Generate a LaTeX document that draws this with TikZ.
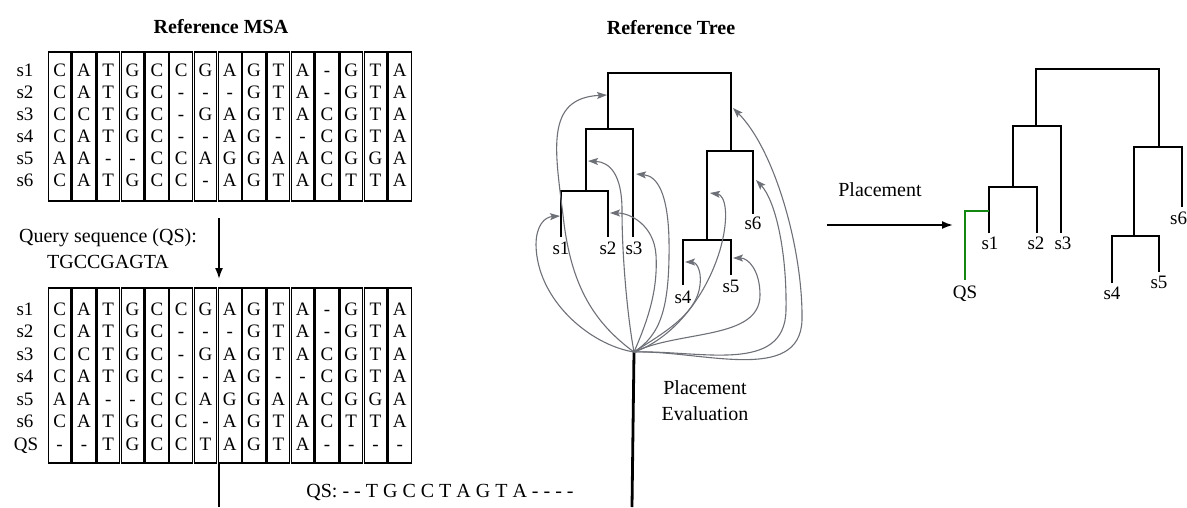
\documentclass[tikz,border=0pt]{standalone}
\usepackage{fontspec}
\setmainfont{Liberation Serif}
\usetikzlibrary{arrows.meta}
\definecolor{movegray}{RGB}{110,112,120}
\definecolor{qsgreen}{RGB}{18,135,18}
\begin{document}
\begin{tikzpicture}[x=1pt,y=-1pt,
  every node/.style={inner sep=0pt,outer sep=0pt,font=\fontsize{19}{22}\selectfont},
  ch/.style={text height=13.5pt,text depth=0pt},
  col/.style={draw=black,line width=1.2pt},
  title/.style={font=\fontsize{20}{24}\selectfont\bfseries},
  lbl/.style={font=\fontsize{20}{24}\selectfont},
  branch/.style={draw=black,line width=1.9pt},
  qsbranch/.style={draw=qsgreen,line width=2.8pt},
  stem/.style={draw=black,line width=2.8pt},
  move/.style={draw=movegray,line width=1.1pt,-{Stealth[length=10pt,width=7pt,inset=2pt]}},
  flow/.style={draw=black,line width=1.8pt,-{Latex[length=11pt,width=8pt]}}]
\useasboundingbox (0,0) rectangle (1187,507);

% ---------- titles ----------
\node[title] (msa-title) at (221,27) {Reference MSA};
\node[title] (tree-title) at (671,28) {Reference Tree};

% ---------- reference alignment ----------
\foreach \c in {0,...,14}
  \draw[col] ({47.5+24.3*\c+0.8},52) rectangle ({47.5+24.3*(\c+1)-0.8},201);
\foreach \seq [count=\r] in {{C,A,T,G,C,C,G,A,G,T,A,-,G,T,A},{C,A,T,G,C,-,-,-,G,T,A,-,G,T,A},{C,C,T,G,C,-,G,A,G,T,A,C,G,T,A},{C,A,T,G,C,-,-,A,G,-,-,C,G,T,A},{A,A,-,-,C,C,A,G,G,A,A,C,G,G,A},{C,A,T,G,C,C,-,A,G,T,A,C,T,T,A}}{
  \node[ch] (top-lab-\r) at (25,{69.5+22.1*(\r-1)}) {s\r};
  \foreach \x [count=\c] in \seq
    \node[ch] (top-\r-\c) at ({47.5+24.3*(\c-0.5)},{69.5+22.1*(\r-1)}) {\x};
}

% ---------- query sequence and alignment step ----------
\node[lbl] (qs-head) at (108,238) {Query sequence (QS):};
\node[lbl] (qs-seq) at (108,262) {TGCCGAGTA};
\coordinate (align-from) at (219,218);
\coordinate (align-to) at (219,279);
\draw[flow] (align-from) -- (align-to);

% ---------- extended alignment ----------
\foreach \c in {0,...,14}
  \draw[col] ({47.5+24.3*\c+0.8},288) rectangle ({47.5+24.3*(\c+1)-0.8},463);
\foreach \seq [count=\r] in {{C,A,T,G,C,C,G,A,G,T,A,-,G,T,A},{C,A,T,G,C,-,-,-,G,T,A,-,G,T,A},{C,C,T,G,C,-,G,A,G,T,A,C,G,T,A},{C,A,T,G,C,-,-,A,G,-,-,C,G,T,A},{A,A,-,-,C,C,A,G,G,A,A,C,G,G,A},{C,A,T,G,C,C,-,A,G,T,A,C,T,T,A},{-,-,T,G,C,C,T,A,G,T,A,-,-,-,-}}{
  \foreach \x [count=\c] in \seq
    \node[ch] (ext-\r-\c) at ({47.5+24.3*(\c-0.5)},{308.3+22.5*(\r-1)}) {\x};
}
\foreach \r in {1,...,6}
  \node[ch] (ext-lab-\r) at (25,{308.3+22.5*(\r-1)}) {s\r};
\node[ch] (ext-lab-7) at (26,443.3) {QS};

\coordinate (msa-out-top) at (219,463);
\coordinate (msa-out-bot) at (219,507);
\draw[stem] (msa-out-top) -- (msa-out-bot);
\node[lbl] (qs-aligned) at (440,492) {QS: - - T G C C T A G T A - - - -};

% ---------- reference tree ----------
\coordinate (a-root) at (669.5,73);
\coordinate (a-A) at (608,129);
\coordinate (a-B) at (731,151);
\coordinate (a-C) at (586,191);
\coordinate (a-D) at (707,240);
\coordinate (a-s1) at (561,237);
\coordinate (a-s2) at (608,237);
\coordinate (a-s3) at (633,237);
\coordinate (a-s4) at (683,285);
\coordinate (a-s5) at (731,275);
\coordinate (a-s6) at (753,214);
\draw[branch] (a-s1) |- (a-C) -| (a-s2);
\draw[branch] (a-C) |- (a-A) -| (a-s3);
\draw[branch] (a-s4) |- (a-D) -| (a-s5);
\draw[branch] (a-D) |- (a-B) -| (a-s6);
\draw[branch] (a-A) |- (a-root) -| (a-B);
\node[ch] (a-l1) at (561,248) {s1};
\node[ch] (a-l2) at (608,248) {s2};
\node[ch] (a-l3) at (634,248) {s3};
\node[ch] (a-l4) at (683,297) {s4};
\node[ch] (a-l5) at (731,286) {s5};
\node[ch] (a-l6) at (753,223) {s6};

% candidate insertion points, tried from the query end
\coordinate (ev) at (634,352);
\coordinate (ev-bot) at (632,507);
\draw[stem] (ev) -- (ev-bot);
\coordinate (t1) at (607,95);
\coordinate (t2) at (560,216);
\coordinate (t3) at (610,213);
\coordinate (t4) at (588,161);
\coordinate (t5) at (636,174);
\coordinate (t6) at (710,193);
\coordinate (t7) at (685,262);
\coordinate (t8) at (733,258);
\coordinate (t9) at (756,180);
\coordinate (t10) at (733,108);
\draw[move] (ev) .. controls (590,320) and (570,280) .. (563,215) .. controls (555,150) and (545,98) .. (t1);
\draw[move] (ev) .. controls (590,345) and (537,300) .. (536,245) .. controls (536,225) and (545,217) .. (t2);
\draw[move] (ev) .. controls (648,320) and (658,290) .. (656,255) .. controls (654,225) and (630,213) .. (t3);
\draw[move] (ev) .. controls (628,320) and (622,260) .. (622,210) .. controls (622,175) and (610,162) .. (t4);
\draw[move] (ev) .. controls (660,335) and (670,310) .. (669,240) .. controls (668,195) and (658,176) .. (t5);
\draw[move] (ev) .. controls (670,340) and (705,300) .. (720,250) .. controls (730,215) and (725,195) .. (t6);
\draw[move] (ev) .. controls (660,335) and (697,315) .. (700,285) .. controls (702,268) and (695,262) .. (t7);
\draw[move] (ev) .. controls (680,330) and (760,340) .. (760,295) .. controls (760,270) and (748,258) .. (t8);
\draw[move] (ev) .. controls (700,350) and (785,375) .. (786,310) .. controls (787,250) and (775,200) .. (t9);
\draw[move] (ev) .. controls (700,350) and (800,385) .. (802,320) .. controls (803,250) and (775,150) .. (t10);
\node[lbl] (eval-1) at (705,388) {Placement};
\node[lbl] (eval-2) at (705,414) {Evaluation};

% ---------- placement step ----------
\coordinate (place-from) at (827,225);
\coordinate (place-to) at (953,225);
\draw[flow] (place-from) -- (place-to);
\node[lbl] (place-lbl) at (880,190) {Placement};

% ---------- tree with the query placed ----------
\coordinate (b-root) at (1097.5,69);
\coordinate (b-A) at (1036,126);
\coordinate (b-B) at (1159,147);
\coordinate (b-C) at (1013,187);
\coordinate (b-D) at (1134,236);
\coordinate (b-s1) at (989,233);
\coordinate (b-s2) at (1037,233);
\coordinate (b-s3) at (1061,233);
\coordinate (b-s4) at (1112,283);
\coordinate (b-s5) at (1159,272);
\coordinate (b-s6) at (1182,207);
\draw[branch] (b-s1) |- (b-C) -| (b-s2);
\draw[branch] (b-C) |- (b-A) -| (b-s3);
\draw[branch] (b-s4) |- (b-D) -| (b-s5);
\draw[branch] (b-D) |- (b-B) -| (b-s6);
\draw[branch] (b-A) |- (b-root) -| (b-B);
\coordinate (b-join) at (989,211);
\coordinate (b-qs) at (965,280);
\draw[qsbranch] (b-join) -| (b-qs);
\node[ch] (b-l1) at (990,243) {s1};
\node[ch] (b-l2) at (1036,243) {s2};
\node[ch] (b-l3) at (1063,243) {s3};
\node[ch] (b-l4) at (1112,293) {s4};
\node[ch] (b-l5) at (1159,282) {s5};
\node[ch,anchor=east] (b-l6) at (1187,218) {s6};
\node[ch] (b-lqs) at (965,292) {QS};
\end{tikzpicture}
\end{document}
